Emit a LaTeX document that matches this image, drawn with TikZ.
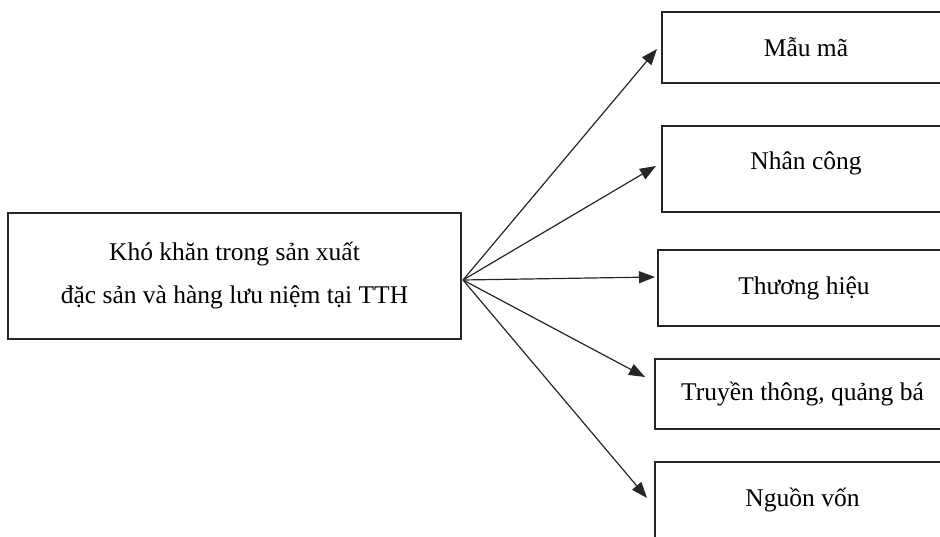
\documentclass[tikz,border=0pt]{standalone}
\usepackage{fontspec}
\setmainfont{Liberation Serif}
\usetikzlibrary{arrows.meta}
\begin{document}
\begin{tikzpicture}[x=1pt,y=-1pt,
  box/.style={draw=black!85,line width=1.3pt,rectangle,inner sep=0pt,align=center,
    font=\fontsize{25.5}{43}\selectfont},
  arr/.style={draw=black!85,line width=1.2pt,-{Triangle[length=16pt,width=12pt]}}]
\useasboundingbox (0,0) rectangle (940,537);
\clip (0,0) rectangle (940,537);
\node[box,minimum width=453pt,minimum height=126pt] (L) at (234.5,276) {Khó khăn trong sản xuất\\đặc sản và hàng lưu niệm tại TTH};
\node[box,minimum width=288pt,minimum height=71pt] (b1) at (806,47.5) {Mẫu mã};
\node[box,minimum width=288pt,minimum height=86pt,text depth=17pt] (b2) at (806,169) {Nhân công};
\node[box,minimum width=292pt,minimum height=76pt] (b3) at (804,288) {Thương hiệu};
\node[box,minimum width=295pt,minimum height=70pt] (b4) at (802.5,394) {Truyền thông, quảng bá};
\node[box,minimum width=295pt,minimum height=86pt,text depth=16pt] (b5) at (802.5,505) {Nguồn vốn};
\coordinate (src) at (463,280);
\coordinate (t1) at (657,49);
\coordinate (t2) at (656,166);
\coordinate (t3) at (655,277);
\coordinate (t4) at (645,377);
\coordinate (t5) at (647,498);
\draw[arr] (src) -- (t1);
\draw[arr] (src) -- (t2);
\draw[arr] (src) -- (t3);
\draw[arr] (src) -- (t4);
\draw[arr] (src) -- (t5);
\end{tikzpicture}
\end{document}
